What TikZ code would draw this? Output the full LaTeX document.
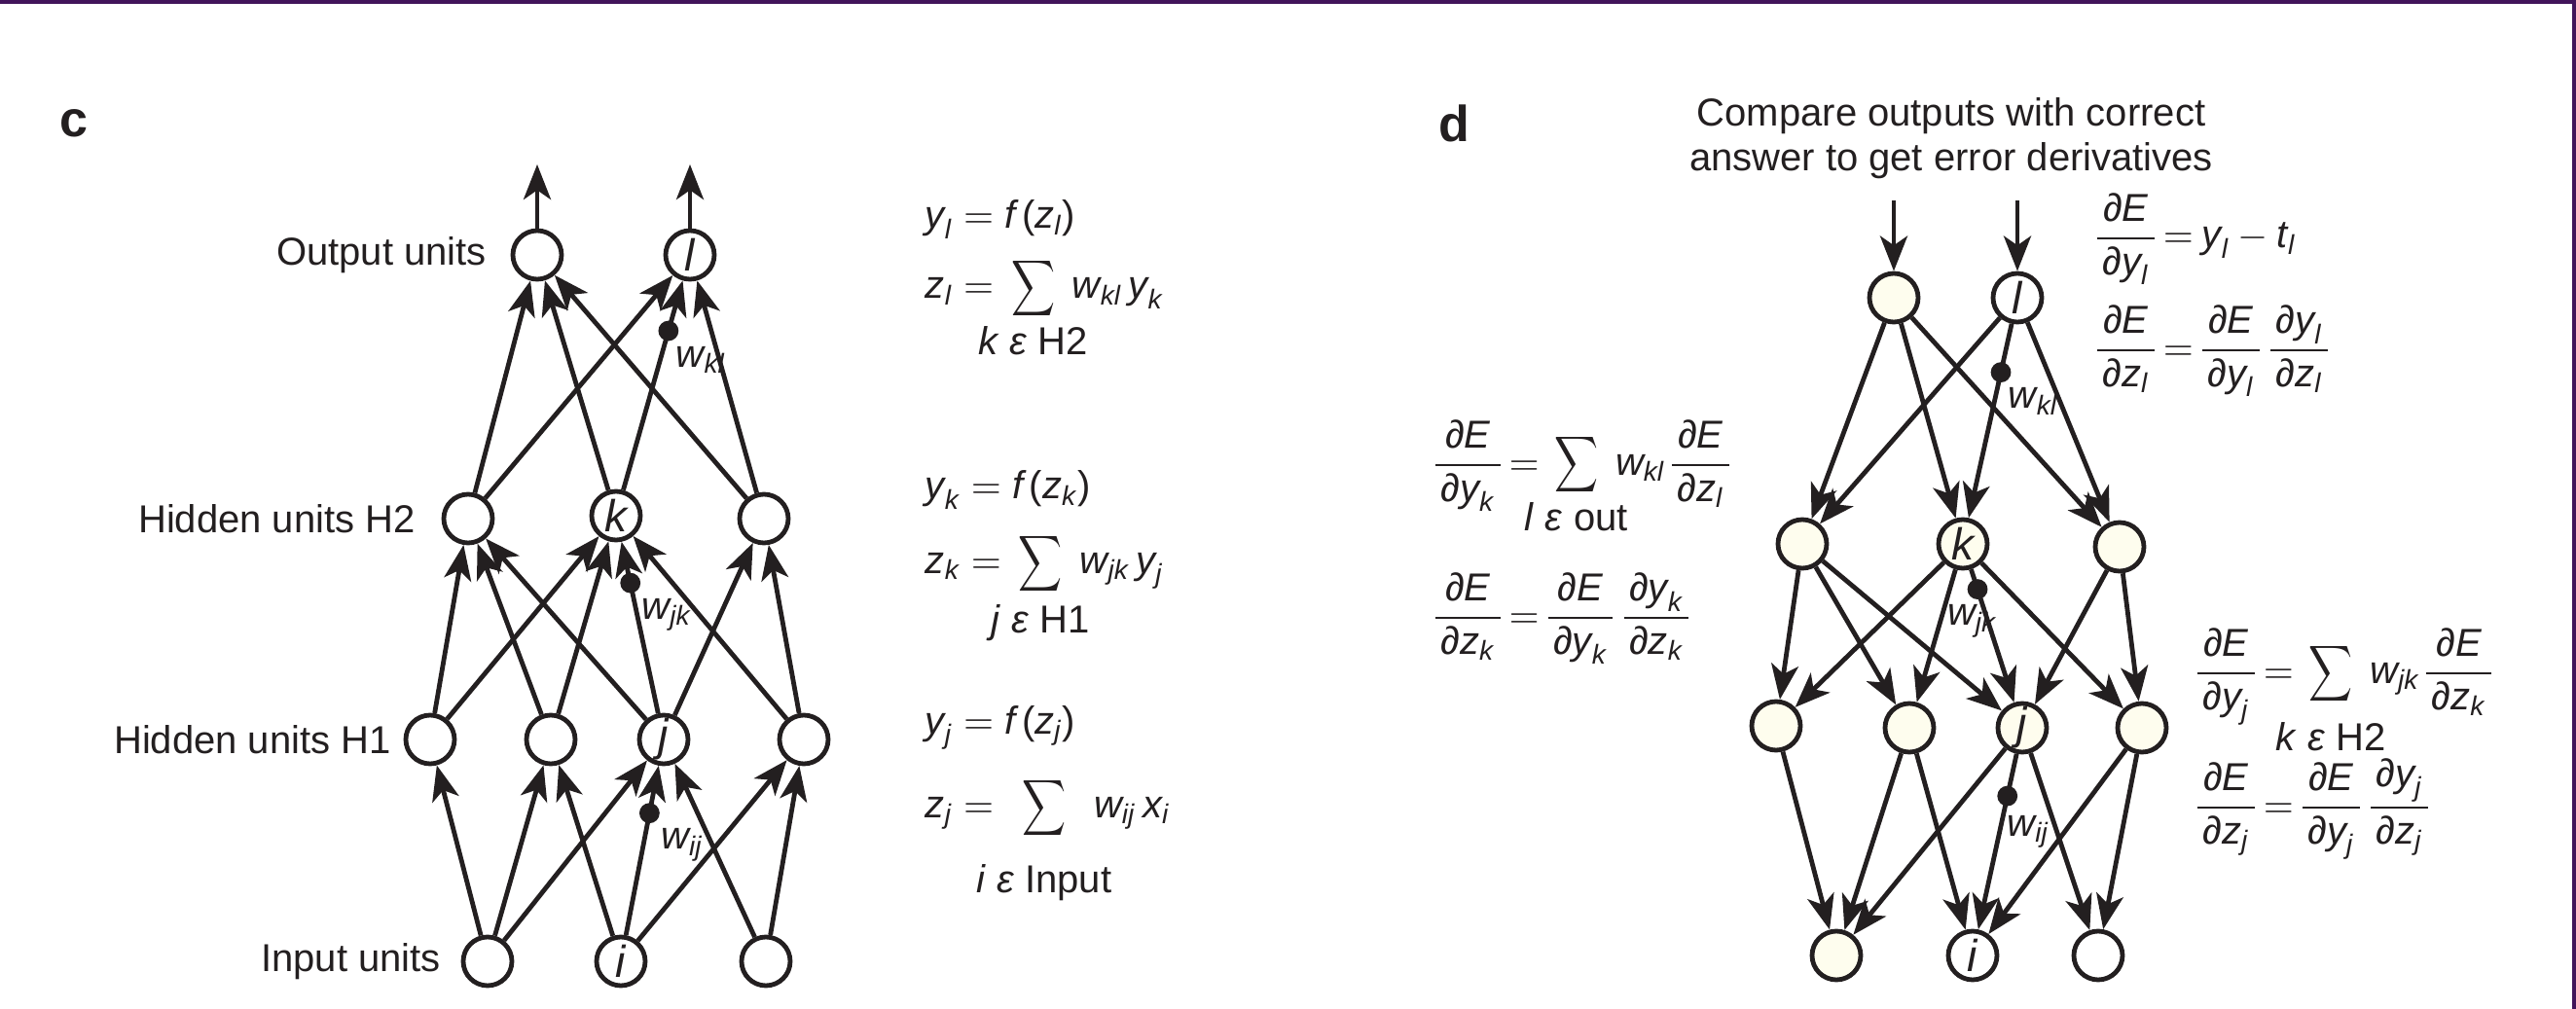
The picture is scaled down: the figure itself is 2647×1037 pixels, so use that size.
\documentclass[tikz,border=0pt]{standalone}
\usepackage{mathtools}
\usepackage{fontspec}
\setmainfont{Liberation Sans}
\usepackage{tikz}
\usetikzlibrary{arrows.meta,positioning}
\definecolor{ink}{RGB}{35,31,32}
\definecolor{cream}{RGB}{254,253,238}
\definecolor{framepurple}{RGB}{66,20,90}
\setlength{\nulldelimiterspace}{0pt}
\newcommand{\vv}[1]{\textit{#1}}
\newcommand{\pd}{\text{∂}}
\newcommand{\eqt}{\mathrel{\mkern-1mu=\mkern-1mu}}
\newcommand{\fr}[2]{\dfrac{\mkern2.5mu#1\mkern2.5mu}{\mkern2.5mu#2\mkern2.5mu}}
\newcommand{\nsum}{\mathop{\scalebox{0.78}[1]{$\displaystyle\sum$}}\limits}
\newcommand{\limtext}[2][0pt]{\mathclap{\text{\normalsize\rule{0pt}{\dimexpr 7.3pt+#1\relax}#2}}}
\tikzset{
  neuron/.style={draw=ink, circle, line width=1.2pt, minimum size=12.5pt, inner sep=0pt, fill=white, text=ink, font=\fontsize{11.5}{13}\selectfont\itshape},
  cneuron/.style={neuron, fill=cream},
  lbl/.style={text=ink, inner sep=0pt},
  eq/.style={text=ink, anchor=base west, inner sep=0pt},
  panel/.style={text=ink, font=\fontsize{13}{15}\selectfont\bfseries},
  fl/.style={draw=ink, line width=1.2pt, -{Stealth[length=9pt,width=7pt,inset=2.4pt]}},
  wdot/.style={circle, fill=ink, minimum size=5.2pt, inner sep=0pt},
  wlab/.style={text=ink, inner sep=1.5pt},
}

\begin{document}
\begin{tikzpicture}[x=0.25pt, y=-0.25pt]
\useasboundingbox (0,0) rectangle (2647,1037);
\fill[framepurple] (0,0) rectangle (2647,4);
\fill[framepurple] (2643,0) rectangle (2647,1037);

% c: forward pass
\node[panel] (labC) at (76,127) {c};
\node[neuron] (cO1) at (552,262) {};
\node[neuron] (cO2) at (709,262) {l};
\node[neuron] (cK1) at (481,533) {};
\node[neuron] (cK2) at (633,530) {k};
\node[neuron] (cK3) at (785,533) {};
\node[neuron] (cJ1) at (442,760) {};
\node[neuron] (cJ2) at (566,760) {};
\node[neuron] (cJ3) at (682,760) {j};
\node[neuron] (cJ4) at (826,760) {};
\node[neuron] (cI1) at (501,988) {};
\node[neuron] (cI2) at (638,988) {i};
\node[neuron] (cI3) at (787,988) {};
\coordinate (cT1) at (552,169);
\coordinate (cT2) at (709,169);

\node[lbl, left=6pt of cO1] {Output units};
\node[lbl, left=6.5pt of cK1] {Hidden units H2};
\node[lbl, left=3pt of cJ1] {Hidden units H1};
\node[lbl, left=5pt of cI1] {Input units};

\draw[fl] (cO1)--(cT1);
\draw[fl] (cO2)--(cT2);
\draw[fl] (cK1)--(cO1); \draw[fl] (cK1)--(cO2);
\draw[fl] (cK2)--(cO1);
\draw[fl] (cK2)--(cO2) node[wdot, pos=0.76] (cWkl) {};
\draw[fl] (cK3)--(cO1); \draw[fl] (cK3)--(cO2);
\draw[fl] (cJ1)--(cK1); \draw[fl] (cJ1)--(cK2);
\draw[fl] (cJ2)--(cK1); \draw[fl] (cJ2)--(cK2);
\draw[fl] (cJ3)--(cK1); \draw[fl] (cJ3)--(cK3);
\draw[fl] (cJ3)--(cK2) node[wdot, pos=0.76] (cWjk) {};
\draw[fl] (cJ4)--(cK2); \draw[fl] (cJ4)--(cK3);
\draw[fl] (cI1)--(cJ1); \draw[fl] (cI1)--(cJ2); \draw[fl] (cI1)--(cJ3);
\draw[fl] (cI2)--(cJ2); \draw[fl] (cI2)--(cJ4);
\draw[fl] (cI2)--(cJ3) node[wdot, pos=0.72] (cWij) {};
\draw[fl] (cI3)--(cJ3); \draw[fl] (cI3)--(cJ4);
\node[wlab, below right=0pt and -2pt of cWkl] {$\vv{w}_{\vv{kl}}$};
\node[wlab, below right=0pt and -1pt of cWjk] {$\vv{w}_{\vv{jk}}$};
\node[wlab, below right=0pt and -1pt of cWij] {$\vv{w}_{\vv{ij}}$};

\node[eq] (eqYl) at (950,235) {$\vv{y}_{\vv{l}} = \vv{f}\,\text{(}\vv{z}_{\vv{l}}\text{)}$};
\node[eq] (eqZl) at (950,307) {$\vv{z}_{\vv{l}} = \,\nsum_{\limtext{\vv{k} \vv{ε} H2}}\; \vv{w}_{\vv{kl}}\, \vv{y}_{\vv{k}}$};
\node[eq] (eqYk) at (950,513) {$\vv{y}_{\vv{k}} = \vv{f}\,\text{(}\vv{z}_{\vv{k}}\text{)}$};
\node[eq] (eqZk) at (950,589) {$\vv{z}_{\vv{k}} = \,\nsum_{\limtext[1pt]{\vv{j} \vv{ε} H1}}\; \vv{w}_{\vv{jk}}\, \vv{y}_{\vv{j}}$};
\node[eq] (eqYj) at (950,754) {$\vv{y}_{\vv{j}} = \vv{f}\,\text{(}\vv{z}_{\vv{j}}\text{)}$};
\node[eq] (eqZj) at (950,840) {$\vv{z}_{\vv{j}} = \;\,\nsum_{\limtext[5pt]{\vv{i} \vv{ε} Input}}\;\; \vv{w}_{\vv{ij}}\, \vv{x}_{\vv{i}}$};

% d: backward pass
\node[panel] (labD) at (1494,127) {d};
\node[lbl, align=center, font=\fontsize{10}{11.4}\selectfont] (title) at (2005,142) {Compare outputs with correct\\answer to get error derivatives};
\node[cneuron] (dO1) at (1946,306) {};
\node[neuron] (dO2) at (2073,306) {l};
\node[cneuron] (dK1) at (1852,559) {};
\node[cneuron] (dK2) at (2017,559) {k};
\node[cneuron] (dK3) at (2178,562) {};
\node[cneuron] (dJ1) at (1825,746) {};
\node[cneuron] (dJ2) at (1962,748) {};
\node[cneuron] (dJ3) at (2078,748) {j};
\node[cneuron] (dJ4) at (2201,748) {};
\node[cneuron] (dI1) at (1887,982) {};
\node[neuron] (dI2) at (2027,982) {i};
\node[neuron] (dI3) at (2156,982) {};
\coordinate (dS1) at (1946,206);
\coordinate (dS2) at (2073,206);

\draw[fl] (dS1)--(dO1);
\draw[fl] (dS2)--(dO2);
\draw[fl] (dO1)--(dK1); \draw[fl] (dO1)--(dK2); \draw[fl] (dO1)--(dK3);
\draw[fl] (dO2)--(dK1); \draw[fl] (dO2)--(dK3);
\draw[fl] (dO2)--(dK2) node[wdot, pos=0.25] (dWkl) {};
\draw[fl] (dK1)--(dJ1); \draw[fl] (dK1)--(dJ2); \draw[fl] (dK1)--(dJ3);
\draw[fl] (dK2)--(dJ1); \draw[fl] (dK2)--(dJ2); \draw[fl] (dK2)--(dJ4);
\draw[fl] (dK2)--(dJ3) node[wdot, pos=0.15] (dWjk) {};
\draw[fl] (dK3)--(dJ3); \draw[fl] (dK3)--(dJ4);
\draw[fl] (dJ1)--(dI1);
\draw[fl] (dJ2)--(dI1); \draw[fl] (dJ2)--(dI2);
\draw[fl] (dJ3)--(dI1); \draw[fl] (dJ3)--(dI3);
\draw[fl] (dJ3)--(dI2) node[wdot, pos=0.24] (dWij) {};
\draw[fl] (dJ4)--(dI2); \draw[fl] (dJ4)--(dI3);
\node[wlab, below right=0pt and -2pt of dWkl] {$\vv{w}_{\vv{kl}}$};
\node[wlab, below left=0pt and -9pt of dWjk] {$\vv{w}_{\vv{jk}}$};
\node[wlab, below right=1pt and -4pt of dWij] {$\vv{w}_{\vv{ij}}$};

\node[eq] (eqD1) at (2154,255) {$\fr{\pd\vv{E}}{\pd\vv{y}_{\vv{l}}} \eqt \vv{y}_{\vv{l}} - \vv{t}_{\vv{l}}$};
\node[eq] (eqD2) at (2154,370) {$\fr{\pd\vv{E}}{\pd\vv{z}_{\vv{l}}} \eqt \fr{\pd\vv{E}}{\pd\vv{y}_{\vv{l}}}\;\fr{\pd\vv{y}_{\vv{l}}}{\pd\vv{z}_{\vv{l}}}$};
\node[eq] (eqD3) at (1474,488) {$\fr{\pd\vv{E}}{\pd\vv{y}_{\vv{k}}} \eqt \,\nsum_{\limtext{\vv{l} \vv{ε} out}}\; \vv{w}_{\vv{kl}}\,\fr{\pd\vv{E}}{\pd\vv{z}_{\vv{l}}}$};
\node[eq] (eqD4) at (1474,645) {$\fr{\pd\vv{E}}{\pd\vv{z}_{\vv{k}}} \eqt \fr{\pd\vv{E}}{\pd\vv{y}_{\vv{k}}}\;\fr{\pd\vv{y}_{\vv{k}}}{\pd\vv{z}_{\vv{k}}}$};
\node[eq] (eqD5) at (2257,702) {$\fr{\pd\vv{E}}{\pd\vv{y}_{\vv{j}}} \eqt \,\nsum_{\limtext[3pt]{\vv{k} \vv{ε} H2}}\; \vv{w}_{\vv{jk}}\,\fr{\pd\vv{E}}{\pd\vv{z}_{\vv{k}}}$};
\node[eq] (eqD6) at (2257,840) {$\fr{\pd\vv{E}}{\pd\vv{z}_{\vv{j}}} \eqt \fr{\pd\vv{E}}{\pd\vv{y}_{\vv{j}}}\;\fr{\pd\vv{y}_{\vv{j}}}{\pd\vv{z}_{\vv{j}}}$};
\end{tikzpicture}
\end{document}
